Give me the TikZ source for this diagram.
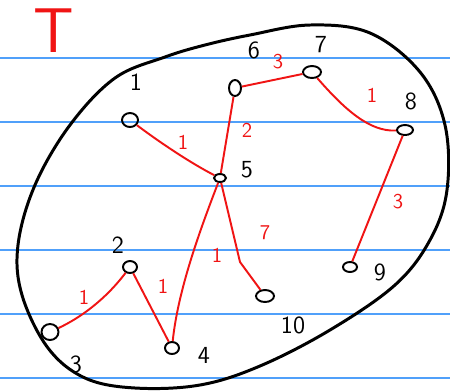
\documentclass[tikz,border=0pt]{standalone}
\usetikzlibrary{shapes.geometric}
\definecolor{rule}{RGB}{80,160,250}
\definecolor{ink}{RGB}{240,20,20}
\begin{document}
\begin{tikzpicture}[x=0.02cm,y=-0.02cm,
  vert/.style={draw=black,line width=1.1pt,ellipse,inner sep=0pt,minimum width=14\pgflinewidth,minimum height=10\pgflinewidth},
  vlabel/.style={font=\sffamily\fontsize{14}{14}\selectfont,text=black,inner sep=0pt},
  wlabel/.style={font=\sffamily\fontsize{12}{12}\selectfont,text=ink,inner sep=0pt},
  edge/.style={draw=ink,line width=1.1pt},
  ruleline/.style={draw=rule,line width=1.1pt},
  boundary/.style={draw=black,line width=1.7pt}]
\useasboundingbox (0,0) rectangle (450,390);
\fill[white] (0,0) rectangle (450,390);
% ruled lines
\foreach \yy in {58,122,186,250,314,378} \draw[ruleline] (0,\yy) -- (450,\yy);
% title
\node[font=\sffamily\fontsize{36}{36}\selectfont,text=ink,inner sep=0pt] (title) at (54,31) {T};
% boundary
\draw[boundary] plot[smooth cycle,tension=0.6] coordinates {(165,57) (115,78) (70,125) (35,185) (18,245) (22,295) (48,348) (85,378) (135,388) (200,385) (260,366) (330,330) (395,285) (430,240) (447,190) (445,125) (420,72) (370,33) (310,25) (250,35) (205,45)};
% vertices
\node[vert,minimum width=0.32cm,minimum height=0.28cm] (n1) at (130,120) {};
\node[vert,minimum width=0.24cm,minimum height=0.32cm] (n6) at (235,88) {};
\node[vert,minimum width=0.36cm,minimum height=0.24cm] (n7) at (312,72) {};
\node[vert,minimum width=0.32cm,minimum height=0.2cm] (n8) at (405,130) {};
\node[vert,minimum width=0.24cm,minimum height=0.16cm] (n5) at (220,178) {};
\node[vert,minimum width=0.28cm,minimum height=0.2cm] (n9) at (350,267) {};
\node[vert,minimum width=0.36cm,minimum height=0.24cm] (n10) at (265,296) {};
\node[vert,minimum width=0.28cm,minimum height=0.24cm] (n2) at (130,267) {};
\node[vert,minimum width=0.34cm,minimum height=0.32cm] (n3) at (50,332) {};
\node[vert,minimum width=0.28cm,minimum height=0.24cm] (n4) at (172,348) {};
% vertex labels
\node[vlabel] (l1) at (136,82) {1};
\node[vlabel] (l6) at (254,50) {6};
\node[vlabel] (l7) at (321,45) {7};
\node[vlabel] (l8) at (411,101) {8};
\node[vlabel] (l5) at (247,170) {5};
\node[vlabel] (l9) at (380,272) {9};
\node[vlabel] (l10) at (293,325) {10};
\node[vlabel] (l2) at (118,245) {2};
\node[vlabel] (l3) at (76,364) {3};
\node[vlabel] (l4) at (204,355) {4};
% edges
\draw[edge] (n1) .. controls (170,150) and (200,168) .. (n5);
\draw[edge] (n6) -- (n5);
\draw[edge] (n6) -- (n7);
\draw[edge] (n7) .. controls (345,110) and (370,132) .. (n8);
\draw[edge] (n8) -- (n9);
\draw[edge] (n5) .. controls (200,230) and (178,290) .. (n4);
\draw[edge] (n5) -- (240,262) -- (n10);
\draw[edge] (n2) .. controls (105,300) and (80,318) .. (n3);
\draw[edge] (n2) -- (n4);
% weights
\node[wlabel] (w15) at (183,142) {1};
\node[wlabel] (w65) at (247,130) {2};
\node[wlabel] (w67) at (278,62) {3};
\node[wlabel] (w78) at (372,95) {1};
\node[wlabel] (w89) at (398,202) {3};
\node[wlabel] (w54) at (217,255) {1};
\node[wlabel] (w510) at (265,233) {7};
\node[wlabel] (w23) at (84,297) {1};
\node[wlabel] (w24) at (163,286) {1};
\end{tikzpicture}
\end{document}
